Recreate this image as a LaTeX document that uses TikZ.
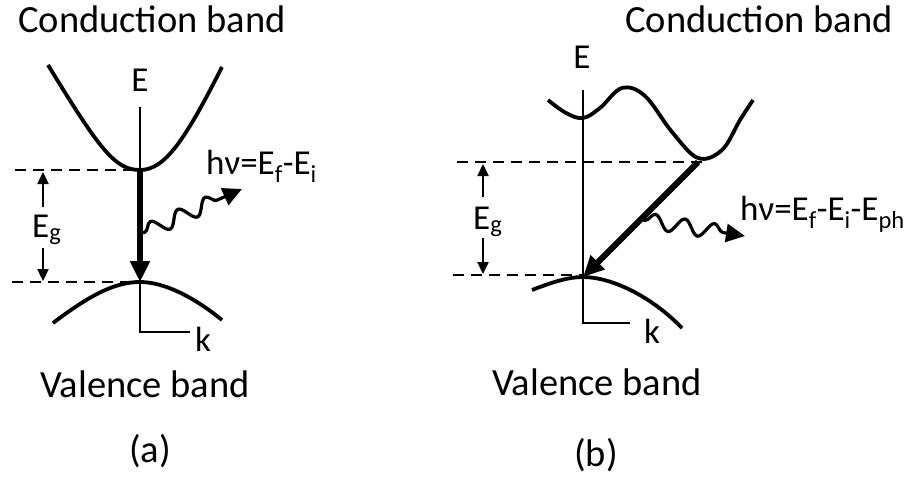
\documentclass[tikz,border=0pt]{standalone}
\usepackage{fontspec}
\setmainfont{Carlito}
\usetikzlibrary{arrows.meta,decorations.pathmorphing}
\begin{document}
\begin{tikzpicture}[x=1pt,y=-1pt,
 band/.style={line width=3.8pt},
 axisline/.style={line width=2.7pt},
 lvl/.style={line width=2.6pt, dash pattern=on 11pt off 7pt},
 trans/.style={line width=6pt, -{Triangle[length=21pt,width=19pt]}},
 gaparrow/.style={line width=2.4pt,-{Triangle[length=12pt,width=11pt]}},
 photon/.style={line width=3.2pt, decorate, decoration={snake,segment length=30pt,amplitude=7.5pt,pre length=2pt,post length=14pt}, -{Triangle[length=19pt,width=18pt]}},
 big/.style={font=\fontsize{38.5}{40}\selectfont, inner sep=0pt},
 lab/.style={font=\fontsize{35}{37}\selectfont, inner sep=0pt}]
\path[use as bounding box] (0,0) rectangle (917,476);
% ---------- texts
\node[big,anchor=base west] (cbA) at (18,33) {Conduction band};
\node[big,anchor=base west] (cbB) at (625,33) {Conduction band};
\node[big,anchor=base west] (vbA) at (40,397) {Valence band};
\node[big,anchor=base west] (vbB) at (492,395) {Valence band};
\node[big] (capA) at (150,451) {(a)};
\node[big] (capB) at (596,455) {(b)};
% ---------- panel (a)
\coordinate (cminA) at (140,170);
\coordinate (vmaxA) at (140,282);
\coordinate (axtopA) at (140,107);
\coordinate (axcornA) at (140,332);
\coordinate (axendA) at (190,332);
\coordinate (dtlA) at (15,170);
\coordinate (dblA) at (12,282);
\draw[band] (48,65) .. controls (100,150) and (115,170) .. (cminA) .. controls (165,170) and (185,140) .. (222,67);
\draw[band] (53,323) .. controls (90,295) and (115,282) .. (vmaxA) .. controls (165,282) and (195,298) .. (222,320);
\draw[axisline] (axtopA) -- (axcornA) -- (axendA);
\draw[lvl] (dtlA) -- (cminA);
\draw[lvl] (dblA) -- (vmaxA);
\node[lab,anchor=base] (EA) at (140,92) {E};
\node[lab,anchor=base west] (kA) at (195,351) {k};
\node[lab,anchor=base west] (EgA) at (32,237) {E\textsubscript{g}};
\coordinate (g1A) at (43,207); \coordinate (g1tA) at (43,172);
\coordinate (g2A) at (43,248); \coordinate (g2tA) at (43,281);
\draw[gaparrow] (g1A) -- (g1tA);
\draw[gaparrow] (g2A) -- (g2tA);
\draw[trans] (cminA) -- (vmaxA);
\coordinate (phsA) at (143,233);
\coordinate (pheA) at (242,189);
\draw[photon] (phsA) -- (pheA);
\node[lab,anchor=base west] (hvA) at (206,174) {hν=E\textsubscript{f}-E\textsubscript{i}};
% ---------- panel (b)
\coordinate (cminB) at (698,162);
\coordinate (vmaxB) at (583,277);
\coordinate (axtopB) at (583,90);
\coordinate (axcornB) at (583,323);
\coordinate (axendB) at (630,323);
\coordinate (dtlB) at (457,162);
\coordinate (dtrB) at (707,162);
\coordinate (dblB) at (453,275);
\coordinate (dbrB) at (583,275);
\draw[band] plot[smooth,tension=0.6] coordinates {(548,100) (566,113) (583,118) (600,108) (622,88) (645,96) (672,132) (698,158) (722,150) (740,120) (753,100)};
\draw[band] (532,290) .. controls (555,281) and (570,277) .. (vmaxB) .. controls (610,277) and (650,295) .. (682,328);
\draw[axisline] (axtopB) -- (axcornB) -- (axendB);
\draw[lvl] (dtlB) -- (dtrB);
\draw[lvl] (dblB) -- (dbrB);
\node[lab,anchor=base] (EB) at (582,69) {E};
\node[lab,anchor=base west] (kB) at (644,343) {k};
\node[lab,anchor=base west] (EgB) at (473,229) {E\textsubscript{g}};
\coordinate (g1B) at (483,197); \coordinate (g1tB) at (483,164);
\coordinate (g2B) at (483,238); \coordinate (g2tB) at (483,274);
\draw[gaparrow] (g1B) -- (g1tB);
\draw[gaparrow] (g2B) -- (g2tB);
\draw[trans] (cminB) -- (vmaxB);
\coordinate (phsB) at (643,220);
\coordinate (pheB) at (745,236);
\draw[photon] (phsB) -- (pheB);
\node[lab,anchor=base west] (hvB) at (740,220) {hν=E\textsubscript{f}-E\textsubscript{i}-E\textsubscript{ph}};
\end{tikzpicture}
\end{document}
